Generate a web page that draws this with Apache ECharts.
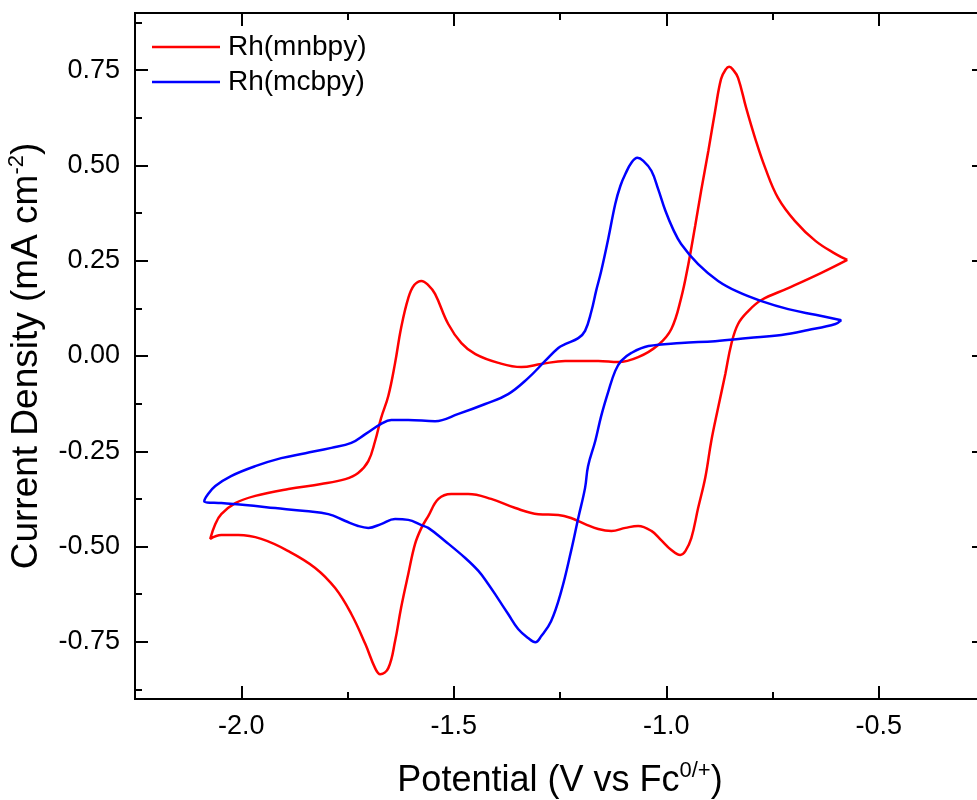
<!DOCTYPE html>
<html>
<head>
<meta charset="utf-8">
<script src="https://cdn.jsdelivr.net/npm/echarts@6/dist/echarts.min.js"></script>
<style>
  html, body { margin: 0; padding: 0; background: #fff; overflow: hidden; }
  #chart { width: 977px; height: 800px; }
</style>
</head>
<body>
<div id="chart"></div>
<script>
// Cyclic voltammograms, listed in scan order (V vs Fc0/+, mA cm^-2)
const mnbpyPotential = [
  -0.574, -0.635, -0.713, -0.776, -0.807, -0.831, -0.847, -0.861, -0.878, -0.894,
  -0.908, -0.925, -0.941, -0.955, -0.967, -0.988, -1.012, -1.035, -1.066, -1.096,
  -1.129, -1.160, -1.191, -1.224, -1.254, -1.301, -1.355, -1.412, -1.466, -1.506,
  -1.536, -1.560, -1.576, -1.591, -1.607, -1.624, -1.638, -1.654, -1.673, -1.685,
  -1.708, -1.741, -1.779, -1.826, -1.889, -1.953, -2.007, -2.047, -2.073, -2.061,
  -2.047, -2.014, -1.967, -1.889, -1.812, -1.755, -1.725, -1.701, -1.685, -1.671,
  -1.654, -1.638, -1.624, -1.607, -1.593, -1.576, -1.560, -1.544, -1.513, -1.482,
  -1.449, -1.395, -1.341, -1.294, -1.238, -1.160, -1.113, -1.066, -1.019, -0.988,
  -0.965, -0.948, -0.932, -0.918, -0.901, -0.885, -0.871, -0.860, -0.852, -0.842,
  -0.831, -0.812, -0.791, -0.767, -0.737, -0.697, -0.649, -0.602, -0.574
];
const mnbpyCurrent = [
  0.252, 0.218, 0.178, 0.147, 0.118, 0.084, 0.031, -0.047, -0.136, -0.223,
  -0.318, -0.399, -0.478, -0.512, -0.522, -0.509, -0.483, -0.459, -0.446, -0.451,
  -0.459, -0.454, -0.441, -0.425, -0.417, -0.415, -0.399, -0.375, -0.362, -0.362,
  -0.375, -0.420, -0.451, -0.493, -0.572, -0.661, -0.748, -0.819, -0.835, -0.819,
  -0.756, -0.677, -0.609, -0.556, -0.512, -0.480, -0.470, -0.470, -0.480, -0.441,
  -0.415, -0.386, -0.367, -0.349, -0.336, -0.323, -0.307, -0.276, -0.223, -0.163,
  -0.105, -0.018, 0.073, 0.152, 0.186, 0.197, 0.186, 0.163, 0.084, 0.034,
  0.005, -0.018, -0.029, -0.021, -0.013, -0.013, -0.016, -0.003, 0.029, 0.071,
  0.152, 0.241, 0.341, 0.433, 0.538, 0.643, 0.727, 0.752, 0.759, 0.750,
  0.730, 0.651, 0.572, 0.493, 0.415, 0.354, 0.302, 0.268, 0.252
];
const mcbpyPotential = [
  -0.588, -0.602, -0.666, -0.729, -0.807, -0.885, -0.965, -1.042, -1.082, -1.106,
  -1.120, -1.136, -1.153, -1.167, -1.184, -1.191, -1.207, -1.224, -1.247, -1.271,
  -1.294, -1.308, -1.325, -1.348, -1.372, -1.395, -1.419, -1.442, -1.473, -1.520,
  -1.560, -1.576, -1.607, -1.638, -1.671, -1.701, -1.725, -1.755, -1.795, -1.849,
  -1.920, -1.991, -2.047, -2.087, -2.078, -2.061, -2.024, -1.967, -1.906, -1.849,
  -1.788, -1.741, -1.708, -1.671, -1.647, -1.607, -1.544, -1.489, -1.426, -1.372,
  -1.325, -1.285, -1.254, -1.238, -1.207, -1.191, -1.176, -1.165, -1.153, -1.136,
  -1.120, -1.108, -1.096, -1.082, -1.068, -1.054, -1.035, -1.019, -1.002, -0.984,
  -0.965, -0.925, -0.878, -0.831, -0.776, -0.713, -0.649, -0.588
];
const mcbpyCurrent = [
  0.094, 0.084, 0.068, 0.055, 0.047, 0.039, 0.034, 0.026, 0.008, -0.013,
  -0.039, -0.092, -0.157, -0.223, -0.289, -0.346, -0.425, -0.512, -0.617, -0.696,
  -0.735, -0.751, -0.740, -0.717, -0.677, -0.638, -0.598, -0.564, -0.530, -0.486,
  -0.451, -0.444, -0.430, -0.428, -0.441, -0.451, -0.446, -0.433, -0.415, -0.407,
  -0.399, -0.391, -0.386, -0.381, -0.362, -0.341, -0.315, -0.289, -0.268, -0.255,
  -0.241, -0.228, -0.205, -0.178, -0.168, -0.168, -0.171, -0.152, -0.126, -0.100,
  -0.058, -0.013, 0.021, 0.031, 0.047, 0.066, 0.118, 0.171, 0.223, 0.310,
  0.399, 0.446, 0.478, 0.507, 0.520, 0.512, 0.486, 0.438, 0.381, 0.333,
  0.294, 0.241, 0.197, 0.168, 0.144, 0.123, 0.108, 0.094
];

const seriesNames = ['Rh(mnbpy)', 'Rh(mcbpy)'];
const seriesColors = ['#ff0000', '#0000ff'];

// Axis ranges and tick positions
const xRange = [-2.25, -0.25];
const yRange = [-0.9, 0.9];
const xMajorTicks = [-2.0, -1.5, -1.0, -0.5];
const xMinorTicks = [-2.25, -1.75, -1.25, -0.75, -0.25];
const yMajorTicks = [-0.75, -0.5, -0.25, 0, 0.25, 0.5, 0.75];
const yMinorTicks = [-0.875, -0.625, -0.375, -0.125, 0.125, 0.375, 0.625, 0.875];

const FONT = '"Liberation Sans", Arial, Helvetica, sans-serif';
const zip = (xs, ys) => xs.map((x, i) => [x, ys[i]]);

function frameAxis(position, range, ticks, len, opts) {
  return Object.assign({
    type: 'value',
    position: position,
    min: range[0],
    max: range[1],
    axisLine: { show: true, onZero: false, lineStyle: { color: '#000', width: 2 } },
    axisTick: { show: true, inside: true, length: len, customValues: ticks,
                lineStyle: { color: '#000', width: 2 } },
    axisLabel: { show: false },
    splitLine: { show: false }
  }, opts || {});
}

const chart = echarts.init(document.getElementById('chart'), null, { renderer: 'canvas' });

chart.setOption({
  animation: false,
  backgroundColor: '#fff',
  textStyle: { fontFamily: FONT },
  // the frame runs past the right edge of the canvas, so no fitting to bounds
  grid: { left: 135, top: 13, width: 850, height: 686, containLabel: false, outerBoundsMode: 'none' },
  legend: {
    data: seriesNames,
    orient: 'vertical',
    left: 152,
    top: 33,
    padding: 0,
    itemGap: 7,
    itemWidth: 68,
    itemHeight: 2.5,
    icon: 'rect',
    textStyle: { fontFamily: FONT, fontSize: 28, lineHeight: 28, color: '#000', padding: [0, 0, 0, 3] }
  },
  xAxis: [
    frameAxis('bottom', xRange, xMajorTicks, 13, {
      axisLabel: {
        show: true, customValues: xMajorTicks, margin: 14,
        fontFamily: FONT, fontSize: 27, color: '#000',
        formatter: v => v.toFixed(1)
      },
      name: '{t|Potential (V vs Fc}{s|0/+}{t|)}',
      nameLocation: 'middle',
      nameGap: 61,
      nameTextStyle: {
        rich: {
          t: { fontFamily: FONT, fontSize: 36, color: '#000', lineHeight: 42 },
          s: { fontFamily: FONT, fontSize: 22, color: '#000', lineHeight: 28, verticalAlign: 'top' }
        }
      }
    }),
    frameAxis('bottom', xRange, xMinorTicks, 7),
    frameAxis('top', xRange, xMajorTicks, 13),
    frameAxis('top', xRange, xMinorTicks, 7)
  ],
  yAxis: [
    frameAxis('left', yRange, yMajorTicks, 13, {
      axisLabel: {
        show: true, customValues: yMajorTicks, margin: 15,
        fontFamily: FONT, fontSize: 27, color: '#000',
        formatter: v => v.toFixed(2)
      },
      name: '{t|Current Density (mA cm}{s|-2}{t|)}',
      nameLocation: 'middle',
      nameGap: 87,
      nameTextStyle: {
        rich: {
          t: { fontFamily: FONT, fontSize: 37, color: '#000', lineHeight: 42 },
          s: { fontFamily: FONT, fontSize: 22, color: '#000', lineHeight: 28, verticalAlign: 'top' }
        }
      }
    }),
    frameAxis('left', yRange, yMinorTicks, 7),
    frameAxis('right', yRange, yMajorTicks, 13),
    frameAxis('right', yRange, yMinorTicks, 7)
  ],
  series: [
    {
      name: seriesNames[0],
      type: 'line',
      xAxisIndex: 0, yAxisIndex: 0,
      data: zip(mnbpyPotential, mnbpyCurrent),
      showSymbol: false,
      smooth: 0.4,
      clip: true,
      color: seriesColors[0],
      lineStyle: { color: seriesColors[0], width: 2.5 }
    },
    {
      name: seriesNames[1],
      type: 'line',
      xAxisIndex: 0, yAxisIndex: 0,
      data: zip(mcbpyPotential, mcbpyCurrent),
      showSymbol: false,
      smooth: 0.4,
      clip: true,
      color: seriesColors[1],
      lineStyle: { color: seriesColors[1], width: 2.5 }
    }
  ]
});
</script>
</body>
</html>
